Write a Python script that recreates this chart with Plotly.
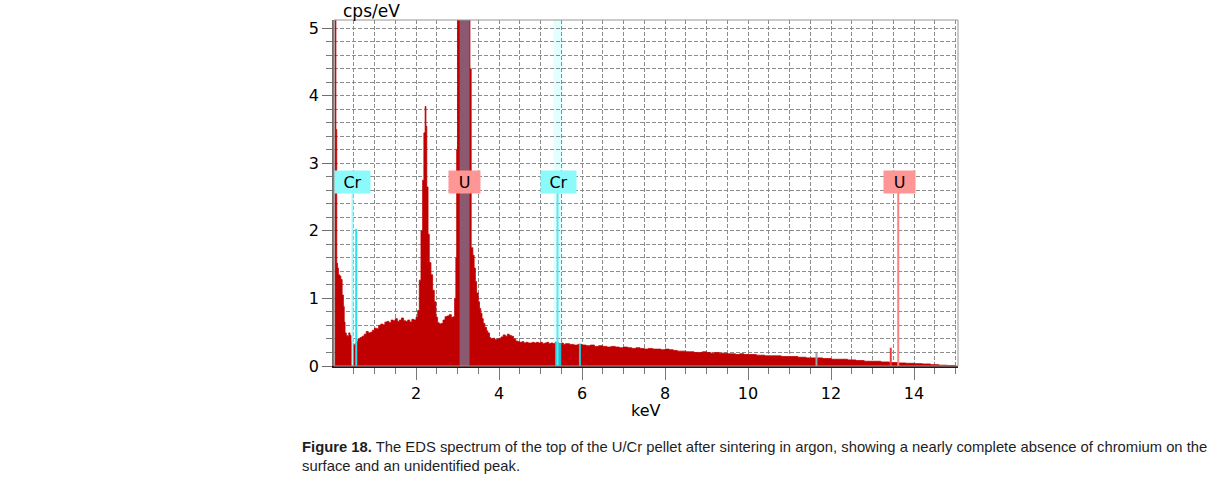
import plotly.graph_objects as go

# EDS spectrum (keV, cps/eV); values above 5.12 are clipped by the axis
energia = [0.00, 0.04, 0.05, 0.07, 0.09, 0.11, 0.13, 0.16, 0.19, 0.22, 0.25, 0.27, 0.29, 0.32, 0.35,
           0.38, 0.41, 0.44, 0.47, 0.50, 0.53, 0.56, 0.60, 0.65, 0.70, 0.75, 0.80, 0.85, 0.90, 0.95,
           1.00, 1.05, 1.10, 1.15, 1.20, 1.25, 1.30, 1.35, 1.40, 1.45, 1.50, 1.55, 1.60, 1.65, 1.70,
           1.75, 1.80, 1.85, 1.90, 1.95, 2.00, 2.04, 2.08, 2.12, 2.16, 2.19, 2.22, 2.24, 2.26, 2.29,
           2.32, 2.36, 2.40, 2.44, 2.48, 2.52, 2.56, 2.60, 2.65, 2.70, 2.75, 2.80, 2.85, 2.90, 2.93,
           2.96, 2.98, 3.00, 3.10, 3.20, 3.28, 3.30, 3.33, 3.37, 3.40, 3.43, 3.46, 3.50, 3.53, 3.56,
           3.59, 3.62, 3.66, 3.70, 3.73, 3.77, 3.80, 3.85, 3.90, 3.95, 4.00, 4.05, 4.10, 4.15, 4.20,
           4.25, 4.30, 4.35, 4.40, 4.45, 4.50, 4.55, 4.60, 4.65, 4.70, 4.75, 4.80, 4.85, 4.90, 4.95,
           5.00, 5.05, 5.10, 5.15, 5.20, 5.25, 5.30, 5.35, 5.40, 5.45, 5.50, 5.55, 5.60, 5.70, 5.80,
           5.90, 6.00, 6.10, 6.20, 6.30, 6.40, 6.50, 6.60, 6.70, 6.80, 6.90, 7.00, 7.10, 7.20, 7.30,
           7.40, 7.50, 7.60, 7.70, 7.80, 7.90, 8.00, 8.10, 8.20, 8.30, 8.40, 8.50, 8.60, 8.70, 8.80,
           8.90, 9.00, 9.10, 9.20, 9.30, 9.40, 9.50, 9.60, 9.70, 9.80, 9.90, 10.0, 10.2, 10.4, 10.6,
           10.8, 11.0, 11.2, 11.4, 11.6, 11.8, 12.0, 12.2, 12.4, 12.6, 12.8, 13.0, 13.2, 13.4, 13.6,
           13.8, 14.0, 14.2, 14.4, 14.6, 14.8, 15.0]
contagem = [0.0, 0.0, 6.0, 3.5, 1.52, 1.45, 1.35, 1.33, 1.28, 1.05, 0.88, 0.65, 0.49, 0.45, 0.44,
            0.49, 0.45, 0.36, 0.33, 0.31, 0.33, 0.36, 0.40, 0.42, 0.44, 0.47, 0.51, 0.49, 0.50, 0.53,
            0.56, 0.55, 0.60, 0.62, 0.61, 0.65, 0.66, 0.64, 0.68, 0.67, 0.70, 0.66, 0.68, 0.71, 0.67,
            0.66, 0.68, 0.65, 0.69, 0.68, 0.72, 0.82, 1.27, 2.00, 2.75, 3.45, 3.84, 3.55, 2.65, 1.95,
            1.53, 1.35, 1.12, 0.95, 0.72, 0.64, 0.62, 0.63, 0.68, 0.73, 0.74, 0.76, 0.72, 0.73, 1.00,
            1.60, 3.20, 6.0, 6.0, 6.0, 6.0, 4.40, 1.75, 1.64, 1.45, 1.25, 1.08, 0.95, 0.85, 0.78,
            0.70, 0.63, 0.57, 0.52, 0.49, 0.42, 0.40, 0.41, 0.39, 0.40, 0.41, 0.43, 0.46, 0.44, 0.47,
            0.45, 0.44, 0.40, 0.37, 0.36, 0.35, 0.36, 0.34, 0.35, 0.34, 0.34, 0.35, 0.34, 0.35, 0.34,
            0.35, 0.33, 0.34, 0.35, 0.33, 0.34, 0.33, 0.35, 0.34, 0.33, 0.34, 0.32, 0.33, 0.32, 0.31,
            0.32, 0.31, 0.30, 0.31, 0.29, 0.30, 0.29, 0.28, 0.29, 0.28, 0.27, 0.28, 0.27, 0.26, 0.27,
            0.26, 0.25, 0.26, 0.25, 0.25, 0.24, 0.25, 0.24, 0.23, 0.22, 0.22, 0.21, 0.21, 0.20, 0.20,
            0.21, 0.20, 0.19, 0.20, 0.19, 0.19, 0.18, 0.18, 0.17, 0.18, 0.17, 0.17, 0.16, 0.15, 0.15,
            0.14, 0.14, 0.13, 0.12, 0.12, 0.11, 0.10, 0.10, 0.09, 0.08, 0.07, 0.07, 0.06, 0.05, 0.045,
            0.04, 0.035, 0.03, 0.02, 0.012, 0.008, 0.0]

# element lines (keV) and their drawn heights
linha_elemento = ['Cr', 'Cr', 'Cr', 'Cr', 'U', 'U', 'U']
linha_energia = [0.47, 0.56, 5.41, 5.95, 13.62, 13.44, 11.65]
linha_altura = [2.56, 2.03, 2.56, 0.33, 2.56, 0.27, 0.20]

# highlighted regions of interest (keV)
faixa_elemento = ['U', 'Cr']
faixa_inicio = [3.05, 5.31]
faixa_fim = [3.29, 5.53]

# label boxes
rotulo_texto = ['Cr', 'U', 'Cr', 'U']
rotulo_energia = [0.48, 3.16, 5.43, 13.66]
rotulo_nivel = 2.73

cor_espectro = 'rgb(192, 0, 0)'
cor_linha = {'Cr': ['rgb(170, 245, 250)', 'rgb(40, 225, 240)', 'rgb(90, 230, 240)', 'rgb(40, 200, 215)'],
             'U': ['rgb(250, 130, 130)', 'rgb(235, 60, 60)', 'rgb(160, 160, 170)']}
cor_rotulo = {'Cr': 'rgb(140, 250, 250)', 'U': 'rgb(255, 150, 150)'}
cor_faixa = {'U': 'rgb(140, 90, 112)', 'Cr': 'rgb(226, 255, 255)'}

fig = go.Figure()

# light cyan band sits under the spectrum
for el, x0, x1 in zip(faixa_elemento, faixa_inicio, faixa_fim):
    if el == 'Cr':
        fig.add_vrect(x0=x0, x1=x1, fillcolor=cor_faixa[el], line_width=0, layer='below')

fig.add_trace(go.Scatter(x=energia, y=contagem, mode='lines', line_shape='hv',
                         line=dict(color=cor_espectro, width=0.8), fill='tozeroy',
                         fillcolor=cor_espectro, hoverinfo='skip'))

# spectrum inside the Cr band is drawn cyan
for el, x0, x1 in zip(faixa_elemento, faixa_inicio, faixa_fim):
    if el == 'Cr':
        sub = [(e, c) for e, c in zip(energia, contagem) if x0 <= e <= x1]
        fig.add_trace(go.Scatter(x=[s[0] for s in sub], y=[s[1] for s in sub], mode='lines',
                                 line_shape='hv', line=dict(color='rgb(30, 190, 210)', width=0.8),
                                 fill='tozeroy', fillcolor='rgb(30, 190, 210)', hoverinfo='skip'))

# U band sits over the spectrum
for el, x0, x1 in zip(faixa_elemento, faixa_inicio, faixa_fim):
    if el == 'U':
        fig.add_vrect(x0=x0, x1=x1, fillcolor=cor_faixa[el], line_width=0, layer='above')

contador = {'Cr': 0, 'U': 0}
for el, e, h in zip(linha_elemento, linha_energia, linha_altura):
    cor = cor_linha[el][contador[el]]
    contador[el] += 1
    fig.add_trace(go.Scatter(x=[e, e], y=[0, h], mode='lines', line=dict(color=cor, width=2),
                             hoverinfo='skip'))

for txt, e in zip(rotulo_texto, rotulo_energia):
    fig.add_annotation(x=e, y=rotulo_nivel, text=txt, showarrow=False,
                       font=dict(family='DejaVu Sans', size=16, color='black'),
                       bgcolor=cor_rotulo[txt], borderpad=2, width=27 if txt == 'U' else 31,
                       height=18)

# plot frame top/right
fig.add_shape(type='rect', xref='paper', yref='paper', x0=0, x1=1, y0=0, y1=1,
              line=dict(color='rgb(150, 150, 150)', width=1), layer='above')

fig.add_annotation(xref='paper', yref='paper', x=0.011, y=1.0, xanchor='left', yanchor='bottom',
                   text='cps/eV', showarrow=False, yshift=-3,
                   font=dict(family='DejaVu Sans', size=17, color='black'))
fig.add_annotation(xref='paper', yref='paper', x=0.5, y=-0.13, xanchor='center', yanchor='middle',
                   text='keV', showarrow=False,
                   font=dict(family='DejaVu Sans', size=16, color='black'))
fig.add_annotation(xref='paper', yref='paper', x=-0.0545, y=-0.2616, xanchor='left', yanchor='middle',
                   align='left', showarrow=False,
                   text='<b>Figure 18.</b> The EDS spectrum of the top of the U/Cr pellet after sintering in argon, '
                        'showing a nearly complete absence of chromium on the<br>surface and an unidentified peak.',
                   font=dict(family='Liberation Sans', size=14.8, color='rgb(30, 30, 30)'))

grade = dict(showgrid=True, gridcolor='rgb(140, 140, 140)', griddash='4px,2px', gridwidth=1)

fig.update_xaxes(range=[0.024, 15.06], dtick=2, tick0=0, ticks='outside', ticklen=12,
                 tickcolor='rgb(120, 120, 120)', showline=True, linecolor='rgb(70, 10, 10)',
                 linewidth=1.5, zeroline=False,
                 tickfont=dict(family='DejaVu Sans', size=16, color='black'),
                 minor=dict(dtick=0.5, tick0=0, ticks='outside', ticklen=6,
                            tickcolor='rgb(120, 120, 120)', **grade),
                 **grade)
fig.update_yaxes(range=[0, 5.12], dtick=1, tick0=0, ticks='outside', ticklen=10,
                 tickcolor='rgb(110, 110, 110)', showline=True, linecolor='rgb(110, 110, 110)',
                 linewidth=1.5, zeroline=False,
                 tickfont=dict(family='DejaVu Sans', size=16, color='black'),
                 minor=dict(dtick=0.2, tick0=0, ticks='outside', ticklen=6,
                            tickcolor='rgb(120, 120, 120)', **grade),
                 **grade)

fig.update_layout(width=1229, height=490, showlegend=False,
                  margin=dict(l=334, r=271, t=20, b=124),
                  paper_bgcolor='white', plot_bgcolor='white')

# drop the page's default body margin so the figure starts at the window corner
fig.write_html("out.html", config={'displayModeBar': False},
               post_script="document.body.style.margin = '0';")
